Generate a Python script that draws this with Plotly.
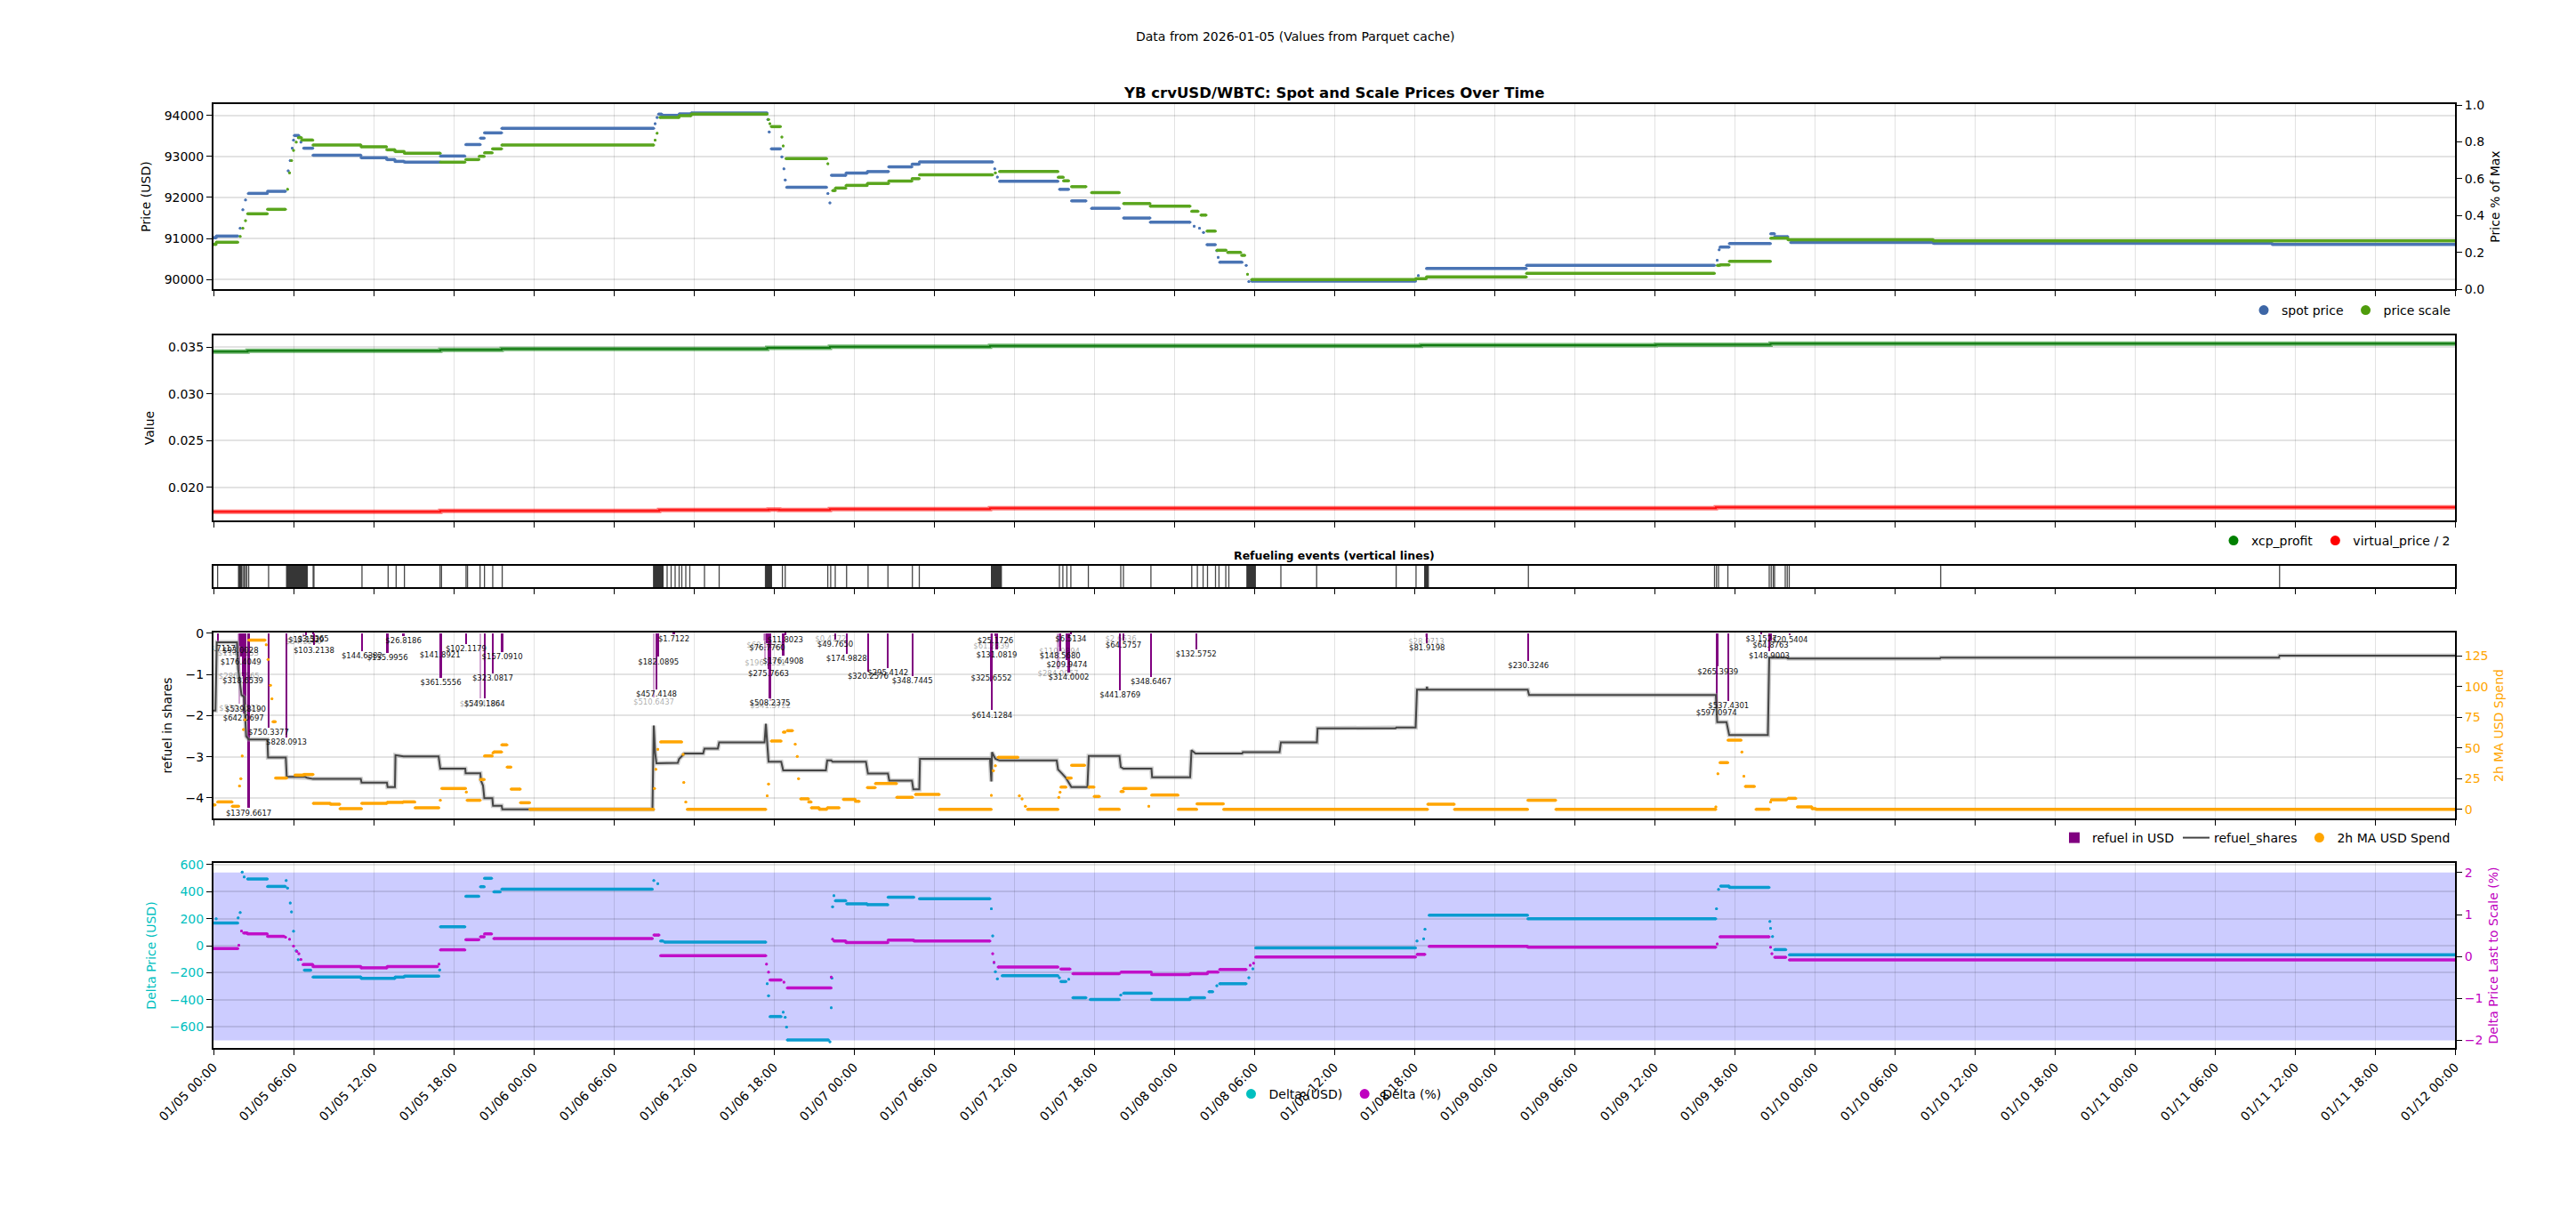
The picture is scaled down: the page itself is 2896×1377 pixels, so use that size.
import pandas as pd
import plotly.graph_objects as go

BASE = pd.Timestamp("2026-01-05 00:00")

# ---------------- data (hours since 2026-01-05 00:00) ----------------
# panel 1: plateaus/points (t_start, t_end, price)
spot_segments = [
    (0.0, 0.2, 91020), (0.2, 1.83, 91060), (2.0, 2.0, 91250), (2.2, 2.2, 91700), (2.4, 2.4, 91940),
    (2.6, 4.04, 92100), (4.04, 5.4, 92150), (5.6, 5.6, 92650), (5.75, 5.75, 92900), (5.9, 5.9, 93200),
    (6.0, 6.0, 93400), (6.05, 6.4, 93510), (6.55, 6.55, 93350), (6.75, 7.45, 93200), (7.45, 11.06, 93030),
    (11.06, 12.98, 92968), (12.98, 13.6, 92924), (13.6, 14.3, 92880), (14.3, 17.0, 92860), (17.0, 18.85, 93010),
    (18.9, 20.0, 93290), (20.0, 20.3, 93444), (20.3, 21.6, 93574), (21.6, 33.0, 93682), (33.1, 33.1, 93800),
    (33.25, 33.25, 93950), (33.35, 33.6, 94030), (33.6, 34.9, 94000), (34.9, 35.8, 94036), (35.8, 41.5, 94058),
    (41.55, 41.55, 93900), (41.65, 41.65, 93600), (41.8, 42.5, 93184), (42.6, 42.6, 92989), (42.75, 42.75, 92700),
    (42.85, 42.85, 92430), (42.95, 45.96, 92250), (46.05, 46.05, 92100), (46.2, 46.2, 91870), (46.3, 47.4, 92540),
    (47.4, 49.0, 92595), (49.0, 50.6, 92631), (50.6, 52.35, 92746), (52.35, 52.9, 92811), (52.9, 58.4, 92868),
    (58.55, 58.55, 92700), (58.75, 58.75, 92500), (58.9, 63.3, 92395), (63.4, 64.1, 92198), (64.3, 65.4, 91917),
    (65.8, 67.9, 91737), (68.2, 70.2, 91499), (70.2, 73.2, 91398), (73.5, 73.5, 91300), (73.9, 73.9, 91250),
    (74.2, 74.2, 91150), (74.45, 75.1, 90850), (75.2, 75.2, 90706), (75.3, 75.3, 90540), (75.4, 77.1, 90425),
    (77.4, 77.4, 90346), (77.6, 77.6, 89950), (77.8, 90.1, 89965), (90.3, 90.3, 90100), (90.9, 98.4, 90274),
    (98.4, 112.5, 90346), (112.7, 112.7, 90470), (112.85, 112.85, 90728), (112.9, 113.6, 90793),
    (113.6, 116.7, 90879), (116.7, 117.0, 91117), (117.0, 118.0, 91045), (118.2, 128.9, 90908),
    (128.9, 154.3, 90886), (154.3, 168.0, 90857),
]
scale_segments = [
    (0.0, 0.2, 90859), (0.2, 1.83, 90910), (2.0, 2.0, 91050), (2.2, 2.2, 91250), (2.4, 2.4, 91437),
    (2.55, 4.04, 91603), (4.04, 5.4, 91711), (5.55, 5.55, 92200), (5.7, 5.7, 92600), (5.85, 5.85, 92900),
    (6.0, 6.0, 93150), (6.2, 6.2, 93350), (6.35, 6.6, 93458), (6.6, 7.45, 93400), (7.45, 11.06, 93278),
    (11.06, 12.98, 93235), (12.98, 13.6, 93162), (13.6, 14.3, 93119), (14.3, 17.0, 93076), (17.0, 18.85, 92860),
    (18.9, 19.9, 92924), (19.9, 20.3, 93004), (20.3, 20.9, 93090), (20.9, 21.6, 93184), (21.6, 33.0, 93278),
    (33.1, 33.1, 93400), (33.25, 33.25, 93567), (33.45, 34.9, 93950), (34.9, 35.8, 93993), (35.8, 41.5, 94029),
    (41.6, 41.6, 93900), (41.7, 41.7, 93800), (41.8, 42.5, 93726), (42.6, 42.6, 93473), (42.7, 42.7, 93256),
    (42.9, 45.96, 92946), (46.05, 46.05, 92823), (46.4, 46.6, 92170), (46.6, 47.4, 92230), (47.4, 49.0, 92295),
    (49.0, 50.6, 92342), (50.6, 52.35, 92400), (52.35, 52.9, 92458), (52.9, 58.4, 92551), (58.6, 58.6, 92600),
    (58.9, 63.3, 92631), (63.3, 63.7, 92494), (63.7, 64.1, 92407), (64.3, 65.4, 92263), (65.8, 67.9, 92119),
    (68.2, 70.2, 91852), (70.2, 73.2, 91787), (73.3, 73.8, 91665), (74.0, 74.4, 91571), (74.45, 75.1, 91182),
    (75.2, 75.9, 90714), (76.0, 77.0, 90663), (77.05, 77.3, 90591), (77.5, 77.5, 90130), (77.8, 90.1, 90000),
    (90.1, 90.9, 90022), (90.9, 98.4, 90065), (98.4, 112.5, 90151), (112.7, 112.9, 90346), (112.9, 113.6, 90360),
    (113.6, 116.7, 90447), (116.7, 118.0, 91009), (118.0, 128.9, 90973), (128.9, 168.0, 90944),
]

# panel 2: step change points
xcp_t = [0, 2.55, 17.0, 21.6, 41.5, 46.2, 58.2, 90.5, 108.1, 116.7, 168]
xcp_v = [0.03452, 0.03462, 0.03471, 0.03481, 0.03493, 0.03506, 0.03515, 0.03522, 0.03528, 0.03538, 0.03538]
vp_t = [0, 17.0, 33.4, 41.6, 42.4, 46.2, 58.2, 112.6, 168]
vp_v = [0.01737, 0.01746, 0.01755, 0.01760, 0.01755, 0.01765, 0.01775, 0.01785, 0.01785]

# panel 3: refuel events
event_times = [0.31, 2.2, 2.3, 2.4, 2.5, 2.64, 4.13, 7.47, 7.53, 11.13, 13.09, 13.69, 14.31, 16.98, 17.09,
               18.93, 19.04, 19.98, 20.31, 20.93, 21.64, 34.0, 34.3, 34.6, 34.9, 35.1, 35.4, 35.7, 36.8,
               37.9, 42.64, 42.85, 46.04, 46.26, 46.6, 47.45, 49.06, 50.55, 52.38, 52.9, 63.4, 63.66, 63.96,
               64.26, 65.57, 68.0, 68.2, 70.26, 73.32, 73.74, 74.17, 74.5, 75.1, 75.36, 75.87, 76.1, 80.0,
               82.68, 88.64, 90.13, 98.55, 112.5, 112.65, 112.8, 113.5, 116.6, 116.75, 116.9, 117.0,
               117.8, 117.95, 118.1, 129.45, 154.85]
event_blocks = [(1.87, 2.1), (5.47, 7.04), (32.98, 33.7), (41.36, 41.83), (58.3, 59.06), (77.45, 78.09),
                (90.77, 91.06)]

# panel 4: refuel events in USD / shares
refuel_t = [0.31, 1.87, 2.02, 2.05, 1.92, 2.2, 1.95, 2.4, 2.25, 2.64, 4.13, 5.47, 6.75, 6.95, 7.47, 7.53,
            11.13, 13.04, 14.24, 16.98, 17.04, 18.93, 19.98, 20.31, 20.93, 21.64, 33.0, 33.2, 33.35, 34.5,
            41.3, 41.35, 41.5, 41.6, 41.7, 41.75, 42.7, 42.85, 46.26, 46.6, 47.45, 49.06, 50.55, 52.38,
            58.3, 58.6, 58.7, 58.3, 58.35, 63.4, 63.45, 63.96, 63.3, 64.1, 64.26, 68.0, 68.2, 67.95,
            70.26, 73.65, 90.9, 90.95, 98.55, 112.75, 113.55, 112.65, 116.0, 116.7, 116.6, 118.15]
refuel_usd = [78.7117, 114.7153, 93.0028, 176.4049, 286.7565, 318.6539, 530.5521, 539.8190, 642.0697,
              1379.6617, 750.3377, 828.0913, 54.1186, 13.1529, 3.3365, 103.2138, 144.6382, 155.9956,
              26.8186, 141.8921, 361.5556, 102.1179, 527.4184, 549.1864, 323.0817, 157.0910, 510.6437,
              457.4148, 182.0895, 1.7122, 60.5213, 196.2331, 76.7760, 275.7663, 508.2375, 541.3722,
              176.4908, 11.8023, 0.4772, 49.7650, 174.9828, 320.2576, 295.4142, 348.7445, 61.2839,
              25.1726, 131.0819, 325.6552, 614.1284, 110.9894, 148.5680, 209.9474, 284.0057, 314.0002,
              6.5134, 2.6636, 64.5757, 441.8769, 348.6467, 132.5752, 28.9713, 81.9198, 230.3246,
              265.3939, 537.4301, 597.0974, 3.1527, 64.8763, 148.9003, 20.5404]
refuel_shares = [0.25, 0.37, 0.30, 0.57, 0.92, 1.03, 1.70, 1.73, 1.95, 4.25, 2.30, 2.53, 0.08, 0.04, 0.01,
                 0.29, 0.43, 0.47, 0.06, 0.40, 1.08, 0.26, 1.59, 1.59, 0.98, 0.45, 1.55, 1.37, 0.57, 0.02,
                 0.18, 0.60, 0.24, 0.86, 1.57, 1.64, 0.55, 0.04, 0.01, 0.15, 0.50, 0.93, 0.85, 1.03, 0.19,
                 0.07, 0.40, 0.98, 1.87, 0.33, 0.44, 0.64, 0.87, 0.95, 0.02, 0.01, 0.18, 1.39, 1.06, 0.38,
                 0.08, 0.24, 0.67, 0.81, 1.64, 1.82, 0.01, 0.18, 0.44, 0.05]
refuel_faded = [0, 1, 0, 0, 1, 0, 1, 0, 0, 0, 0, 0, 1, 0, 0, 0, 0, 0, 0, 0, 0, 0, 1, 0, 0, 0, 1, 0, 0, 0,
                1, 1, 0, 0, 0, 1, 0, 0, 1, 0, 0, 0, 0, 0, 1, 0, 0, 0, 0, 1, 0, 0, 1, 0, 0, 1, 0, 0, 0, 0,
                1, 0, 0, 0, 0, 0, 0, 0, 0, 0]

shares_line = [
    (0, -1.88), (0.15, -1.88), (0.25, -0.22), (1.76, -0.22), (1.85, -0.87), (2.1, -1.5), (2.3, -1.55),
    (2.45, -2.5), (2.64, -2.58), (4.04, -2.58), (4.09, -3.02), (5.42, -3.02), (5.49, -3.49), (6.87, -3.49),
    (7.0, -3.51), (7.47, -3.54), (11.04, -3.54), (11.1, -3.63), (13.0, -3.63), (13.05, -3.74), (13.6, -3.74),
    (13.64, -2.96), (14.24, -2.99), (16.87, -2.99), (17.0, -3.29), (18.87, -3.29), (18.9, -3.40), (20.0, -3.40),
    (20.05, -3.58), (20.2, -3.70), (20.3, -4.01), (20.9, -4.01), (20.95, -4.19), (21.6, -4.19), (21.65, -4.28),
    (32.9, -4.28), (33.0, -2.24), (33.1, -2.9), (33.2, -3.16), (34.8, -3.15), (34.9, -3.05), (35.1, -2.98),
    (35.3, -2.92), (36.7, -2.92), (36.8, -2.80), (37.8, -2.80), (37.9, -2.65), (41.3, -2.65), (41.4, -2.2),
    (41.6, -3.12), (42.55, -3.12), (42.7, -3.33), (45.9, -3.33), (46.0, -3.09), (46.3, -3.09), (46.4, -3.12),
    (48.9, -3.12), (49.05, -3.41), (50.55, -3.41), (50.65, -3.58), (52.35, -3.58), (52.45, -3.79), (52.9, -3.79),
    (52.95, -3.05), (58.2, -3.05), (58.3, -3.6), (58.35, -2.89), (58.6, -3.05), (58.9, -3.09), (63.2, -3.09),
    (63.3, -3.31), (63.6, -3.41), (63.9, -3.52), (64.3, -3.74), (65.5, -3.74), (65.6, -2.98), (67.9, -2.98),
    (68.0, -3.25), (68.2, -3.29), (70.3, -3.29), (70.35, -3.50), (73.2, -3.50), (73.3, -2.84), (73.6, -2.92),
    (77.1, -2.92), (77.15, -2.89), (79.9, -2.89), (80.0, -2.65), (82.7, -2.65), (82.75, -2.31), (88.6, -2.31),
    (88.65, -2.29), (90.1, -2.29), (90.2, -1.37), (90.9, -1.37), (90.95, -1.30), (91.0, -1.37), (98.5, -1.37),
    (98.6, -1.50), (112.6, -1.50), (112.7, -2.16), (113.4, -2.16), (113.6, -2.47), (116.5, -2.47),
    (116.6, -0.59), (117.9, -0.59), (118.0, -0.61), (129.4, -0.61), (129.45, -0.59), (154.8, -0.59),
    (154.85, -0.54), (168.0, -0.54),
]

ma_segments = [
    (0.0, 0.13, 3.6), (0.3, 1.4, 6.0), (1.4, 1.9, 2.4), (1.95, 1.95, 19), (2.05, 2.05, 25), (2.15, 2.15, 43.5),
    (2.25, 2.25, 65), (2.35, 2.35, 73), (2.64, 3.87, 137.8), (3.95, 3.95, 134), (4.09, 4.09, 122),
    (4.27, 4.27, 101), (4.38, 4.38, 90), (4.45, 4.64, 71.3), (4.64, 5.49, 25.4), (6.1, 6.76, 27.8),
    (6.76, 7.47, 28.3), (7.47, 8.76, 4.8), (8.76, 9.47, 4.1), (9.47, 11.1, 0.5), (11.1, 13.0, 4.8),
    (13.0, 14.2, 5.6), (14.2, 15.1, 6.0), (15.1, 16.9, 1.2), (17.0, 17.0, 7.3), (17.1, 18.9, 16.9),
    (18.95, 18.95, 14), (19.0, 20.0, 7.3), (20.0, 20.3, 24.2), (20.3, 20.9, 43.5), (20.95, 20.95, 46),
    (21.0, 21.6, 46.7), (21.6, 22.0, 52.5), (22.0, 22.3, 34.3), (22.3, 23.0, 16.4), (23.0, 23.7, 5.3),
    (23.7, 33.0, 0.0), (33.05, 33.05, 16.9), (33.15, 33.15, 32.6), (33.3, 33.3, 48.8), (33.5, 35.1, 54.9),
    (35.2, 35.2, 44.7), (35.25, 35.25, 21.8), (35.4, 35.4, 6.0), (35.5, 41.4, 0.0), (41.5, 41.5, 10.9),
    (41.6, 41.6, 20.5), (41.8, 42.55, 55.6), (42.7, 42.85, 62.9), (43.0, 43.4, 64.0), (43.6, 43.6, 53),
    (43.75, 43.75, 43), (43.85, 43.85, 25), (44.0, 44.6, 8.5), (44.6, 44.8, 6.0), (44.8, 45.4, 1.2),
    (45.4, 45.96, 0.0), (46.0, 46.9, 1.2), (47.2, 48.1, 8.0), (48.1, 48.4, 6.5), (49.0, 49.6, 17.6),
    (49.6, 51.2, 21.0), (51.2, 52.4, 9.7), (52.6, 54.4, 12.1), (54.4, 58.3, 0.0), (58.3, 58.3, 11.4),
    (58.45, 58.45, 31.4), (58.6, 58.6, 35.5), (58.8, 60.3, 42.3), (60.4, 60.4, 10.9), (60.6, 60.6, 8.5),
    (60.85, 60.85, 2.4), (61.0, 63.3, 0.0), (63.35, 63.35, 9.7), (63.45, 63.45, 13.8), (63.5, 63.9, 18.1),
    (64.0, 64.3, 25.4), (64.3, 65.3, 35.8), (65.6, 66.0, 18.1), (66.0, 66.4, 10.4), (66.4, 67.9, 0.0),
    (68.0, 68.2, 14.5), (68.2, 69.9, 16.9), (70.1, 70.1, 2.4), (70.3, 72.3, 11.6), (72.3, 73.7, 0.0),
    (73.7, 75.7, 4.4), (75.7, 91.0, 0.0), (91.0, 93.0, 4.1), (93.0, 98.5, 0.0), (98.5, 100.6, 7.3),
    (100.6, 112.6, 0.0), (112.6, 112.6, 2.0), (112.75, 112.75, 29), (112.9, 113.5, 38), (113.5, 114.5, 56.3),
    (114.55, 114.55, 46.7), (114.7, 114.7, 27), (114.8, 115.5, 18.6), (115.6, 116.6, 0.0), (116.7, 116.7, 6.0),
    (116.75, 117.9, 7.7), (118.0, 118.6, 8.9), (118.7, 119.8, 1.9), (119.8, 120.1, 0.5), (120.1, 168.0, 0.0),
]

# panel 5
delta_usd_segments = [
    (0.0, 1.83, 168), (0.2, 0.2, 200), (1.85, 1.85, 206), (2.0, 2.0, 245), (2.15, 2.15, 545), (2.3, 2.3, 510),
    (2.55, 4.04, 494), (4.04, 5.4, 439), (5.45, 5.45, 483), (5.55, 5.55, 427), (5.75, 5.75, 316),
    (5.85, 5.85, 250), (6.0, 6.0, 107), (6.2, 6.2, -38), (6.35, 6.35, -104), (6.8, 7.3, -182),
    (7.45, 11.06, -233), (11.06, 13.6, -242), (13.6, 14.3, -233), (14.3, 16.9, -226), (16.95, 16.95, -180),
    (17.0, 18.85, 140), (18.9, 19.9, 366), (20.0, 20.3, 437), (20.3, 20.85, 499), (21.0, 21.5, 399),
    (21.6, 32.9, 419), (33.0, 33.0, 483), (33.3, 33.3, 460), (33.5, 33.7, 35), (33.8, 41.4, 27),
    (41.5, 41.5, -281), (41.6, 41.6, -370), (41.7, 42.55, -525), (42.7, 42.7, -492), (42.85, 42.85, -530),
    (42.95, 42.95, -603), (43.0, 46.1, -698), (46.2, 46.2, -712), (46.3, 46.3, -460), (46.35, 46.35, -240),
    (46.4, 46.4, 288), (46.5, 46.5, 370), (46.6, 47.4, 333), (47.45, 49.0, 310), (49.0, 50.55, 304),
    (50.55, 52.5, 359), (52.9, 58.2, 348), (58.3, 58.3, 273), (58.4, 58.4, 73), (58.5, 58.5, -126),
    (58.6, 58.6, -193), (58.75, 58.75, -246), (59.1, 63.3, -222), (63.4, 63.4, -237), (63.5, 63.9, -266),
    (64.1, 64.1, -249), (64.4, 65.4, -386), (65.7, 67.9, -399), (68.0, 68.0, -366), (68.2, 70.3, -352),
    (70.3, 73.2, -399), (73.2, 74.3, -386), (74.6, 74.9, -341), (75.2, 75.2, -297), (75.4, 77.4, -282),
    (77.6, 77.6, -237), (77.9, 77.9, -171), (78.1, 90.1, -16), (90.2, 90.2, 35), (90.7, 90.7, 51),
    (90.8, 90.8, 122), (91.1, 98.5, 226), (98.5, 112.6, 200), (112.65, 112.65, 273), (112.8, 112.8, 417),
    (112.95, 113.6, 441), (113.6, 116.6, 432), (116.65, 116.65, 180), (116.7, 116.7, 129),
    (116.85, 116.85, 67), (117.0, 117.85, -29), (118.1, 168.0, -67),
]
delta_pct_segments = [
    (0.0, 1.83, 0.19), (1.9, 1.9, 0.27), (2.1, 2.1, 0.61), (2.25, 2.55, 0.56), (2.55, 4.04, 0.54),
    (4.04, 5.3, 0.48), (5.4, 5.4, 0.46), (5.7, 5.7, 0.41), (6.0, 6.0, 0.25), (6.25, 6.25, 0.12),
    (6.4, 6.4, 0.07), (6.55, 6.55, -0.07), (6.7, 7.45, -0.19), (7.45, 11.06, -0.24), (11.06, 13.0, -0.27),
    (13.0, 16.8, -0.24), (16.9, 16.9, -0.18), (17.0, 18.85, 0.16), (18.9, 19.9, 0.40), (20.0, 20.3, 0.47),
    (20.3, 20.85, 0.54), (21.0, 32.9, 0.43), (33.0, 33.4, 0.51), (33.5, 41.4, 0.02), (41.45, 41.45, -0.18),
    (41.6, 41.6, -0.37), (41.7, 42.55, -0.56), (42.75, 42.75, -0.61), (43.0, 46.3, -0.75),
    (46.3, 46.3, -0.49), (46.4, 46.4, 0.41), (46.5, 47.4, 0.37), (47.4, 50.55, 0.33), (50.55, 52.5, 0.39),
    (52.5, 58.2, 0.37), (58.4, 58.4, 0.07), (58.5, 58.5, -0.14), (58.8, 63.3, -0.25), (63.5, 64.2, -0.30),
    (64.4, 67.9, -0.41), (68.0, 70.3, -0.37), (70.3, 73.2, -0.43), (73.2, 74.5, -0.41), (74.5, 75.3, -0.37),
    (75.4, 77.4, -0.31), (77.7, 77.7, -0.21), (77.95, 77.95, -0.16), (78.1, 90.1, -0.01), (90.2, 90.8, 0.05),
    (91.1, 98.5, 0.24), (98.5, 112.6, 0.22), (112.7, 112.7, 0.30), (112.9, 116.6, 0.47),
    (116.7, 116.7, 0.22), (116.8, 116.8, 0.07), (117.0, 117.85, -0.02), (118.1, 168.0, -0.08),
]

X_START, X_END = "2026-01-05 00:00", "2026-01-12 00:00"


# ---------------- helpers ----------------
def T(h):
    return None if h is None else BASE + pd.Timedelta(hours=h)


def seg_xy(segs):
    xs, ys = [], []
    for a, b, v in segs:
        xs += [T(a), T(b), None]
        ys += [v, v, None]
    return xs, ys


W, H = 2896, 1377
XD = [232 / W, 2752 / W]


def ydom(top, bottom):
    return [1 - bottom / H, 1 - top / H]


FONT = "DejaVu Sans"
GRID = "rgba(0,0,0,0.11)"
fig = go.Figure()

# ---- panel 1 ----
for segs, col, name in [(spot_segments, "#4a74b4", "spot price"), (scale_segments, "#5aa51e", "price scale")]:
    xs, ys = seg_xy(segs)
    fig.add_trace(go.Scatter(x=xs, y=ys, mode="lines+markers", line=dict(color=col, width=3.5),
                             marker=dict(color=col, size=3), showlegend=False, xaxis="x", yaxis="y",
                             hoverinfo="skip"))
fig.add_trace(go.Scatter(x=[T(0)], y=[0.5], mode="markers", marker=dict(opacity=0), showlegend=False,
                         xaxis="x", yaxis="y2", hoverinfo="skip"))
fig.add_trace(go.Scatter(x=[None], y=[None], mode="markers", marker=dict(color="#3d66a6", size=11),
                         name="spot price", legend="legend"))
fig.add_trace(go.Scatter(x=[None], y=[None], mode="markers", marker=dict(color="#4f9c0c", size=11),
                         name="price scale", legend="legend"))

# ---- panel 2 ----
for t, v, light, dark, name in [(xcp_t, xcp_v, "rgba(0,128,0,0.55)", "#117a11", "xcp_profit"),
                                (vp_t, vp_v, "rgba(255,0,0,0.55)", "#ff1010", "virtual_price / 2")]:
    xs = [T(h) for h in t]
    fig.add_trace(go.Scatter(x=xs, y=v, mode="lines", line=dict(color=light, width=5, shape="hv"),
                             showlegend=False, xaxis="x2", yaxis="y3", hoverinfo="skip"))
    fig.add_trace(go.Scatter(x=xs, y=v, mode="lines", line=dict(color=dark, width=2, shape="hv"),
                             showlegend=False, xaxis="x2", yaxis="y3", hoverinfo="skip"))
fig.add_trace(go.Scatter(x=[None], y=[None], mode="markers", marker=dict(color="#008000", size=11),
                         name="xcp_profit", legend="legend2"))
fig.add_trace(go.Scatter(x=[None], y=[None], mode="markers", marker=dict(color="#ff0000", size=11),
                         name="virtual_price / 2", legend="legend2"))

# ---- panel 3 ----
ex, ey = [], []
for h in event_times:
    ex += [T(h), T(h), None]
    ey += [0, 1, None]
fig.add_trace(go.Scatter(x=ex, y=ey, mode="lines", line=dict(color="rgba(40,40,40,0.85)", width=1.3),
                         showlegend=False, xaxis="x3", yaxis="y4", hoverinfo="skip"))
bx, by = [], []
for a, b in event_blocks:
    bx += [T(a), T(b), T(b), T(a), T(a), None]
    by += [0, 0, 1, 1, 0, None]
fig.add_trace(go.Scatter(x=bx, y=by, mode="lines", fill="toself", fillcolor="#363636",
                         line=dict(color="#363636", width=1), showlegend=False, xaxis="x3", yaxis="y4",
                         hoverinfo="skip"))

# ---- panel 4 ----
bar_cols = ["rgba(128,0,128,0.35)" if f else "#800080" for f in refuel_faded]
fig.add_trace(go.Bar(x=[T(h) for h in refuel_t], y=[-s for s in refuel_shares], width=0.15 * 3600 * 1000,
                     marker=dict(color=bar_cols, line=dict(width=0)), name="refuel in USD",
                     legend="legend3", xaxis="x4", yaxis="y5", hoverinfo="skip"))
sx = [T(p[0]) for p in shares_line]
sy = [p[1] for p in shares_line]
fig.add_trace(go.Scatter(x=sx, y=sy, mode="lines", line=dict(color="rgba(150,150,150,0.45)", width=5),
                         showlegend=False, xaxis="x4", yaxis="y5", hoverinfo="skip"))
fig.add_trace(go.Scatter(x=sx, y=sy, mode="lines", line=dict(color="#444444", width=2),
                         name="refuel_shares", legend="legend3", xaxis="x4", yaxis="y5", hoverinfo="skip"))
txt_cols = ["rgba(0,0,0,0.35)" if f else "#111111" for f in refuel_faded]
fig.add_trace(go.Scatter(x=[T(h) for h in refuel_t], y=[-s - 0.04 for s in refuel_shares], mode="text",
                         text=[f"${u:.4f}" for u in refuel_usd], textposition="bottom center",
                         textfont=dict(size=8.5, color=txt_cols, family=FONT), showlegend=False,
                         xaxis="x4", yaxis="y5", hoverinfo="skip"))
mx, my = seg_xy(ma_segments)
fig.add_trace(go.Scatter(x=mx, y=my, mode="lines+markers", line=dict(color="#ffa500", width=3.5),
                         marker=dict(color="#ffa500", size=3), showlegend=False, xaxis="x4", yaxis="y6",
                         hoverinfo="skip"))
fig.add_trace(go.Scatter(x=[None], y=[None], mode="markers", marker=dict(color="#ffa500", size=11),
                         name="2h MA USD Spend", legend="legend3"))

# ---- panel 5 ----
dx, dy = seg_xy(delta_usd_segments)
fig.add_trace(go.Scatter(x=dx, y=dy, mode="lines+markers", line=dict(color="#0b9bd0", width=3.5),
                         marker=dict(color="#0b9bd0", size=3), showlegend=False, xaxis="x5", yaxis="y7",
                         hoverinfo="skip"))
px, pyy = seg_xy(delta_pct_segments)
fig.add_trace(go.Scatter(x=px, y=pyy, mode="lines+markers", line=dict(color="#c010c8", width=3.5),
                         marker=dict(color="#c010c8", size=3), showlegend=False, xaxis="x5", yaxis="y8",
                         hoverinfo="skip"))
fig.add_trace(go.Scatter(x=[None], y=[None], mode="markers", marker=dict(color="#00bfbf", size=11),
                         name="Delta (USD)", legend="legend4"))
fig.add_trace(go.Scatter(x=[None], y=[None], mode="markers", marker=dict(color="#bf00bf", size=11),
                         name="Delta (%)", legend="legend4"))

# ---------------- layout ----------------
xbase = dict(type="date", range=[X_START, X_END], tick0=X_START, dtick=6 * 3600 * 1000,
             tickformat="%m/%d %H:%M", showgrid=True, gridcolor=GRID, gridwidth=1, showline=True,
             linecolor="black", linewidth=2, mirror=True, ticks="outside", ticklen=6, tickwidth=1.3,
             tickcolor="black", domain=XD, zeroline=False, showticklabels=False, automargin=False,
             tickfont=dict(size=14, color="black"))
ybase = dict(showline=True, linecolor="black", linewidth=2, mirror=True, ticks="outside", ticklen=6,
             tickwidth=1.3, tickcolor="black", zeroline=False, showgrid=True, gridcolor=GRID, gridwidth=1.5,
             automargin=False, tickfont=dict(size=14, color="black"), title_font=dict(size=14, color="black"))
yright = dict(showline=True, linecolor="black", linewidth=2, ticks="outside", ticklen=6, tickwidth=1.3,
              tickcolor="black", zeroline=False, showgrid=False, side="right", automargin=False,
              tickfont=dict(size=14, color="black"), title_font=dict(size=14, color="black"))

d1, d2, d3, d4, d5 = ydom(109, 317), ydom(369, 577), ydom(628, 652), ydom(703, 912), ydom(962, 1170)

layout = dict(
    width=W, height=H, margin=dict(l=0, r=0, t=0, b=0, autoexpand=False), paper_bgcolor="white",
    plot_bgcolor="white",
    font=dict(family=FONT, size=14, color="black"), bargap=0,
    xaxis=dict(xbase, anchor="y"),
    xaxis2=dict(xbase, anchor="y3"),
    xaxis3=dict(xbase, anchor="y4", showgrid=False),
    xaxis4=dict(xbase, anchor="y5"),
    xaxis5=dict(xbase, anchor="y7", showticklabels=True, tickangle=-45),
    yaxis=dict(ybase, domain=d1, range=[89768, 94275], tickvals=[90000, 91000, 92000, 93000, 94000],
               tickformat="d", title=dict(text="Price (USD)", standoff=12), anchor="x"),
    yaxis2=dict(yright, overlaying="y", anchor="x", range=[0, 1.005], tickvals=[0, 0.2, 0.4, 0.6, 0.8, 1.0],
                tickformat=".1f", title=dict(text="Price % of Max", standoff=8)),
    yaxis3=dict(ybase, domain=d2, range=[0.01644, 0.03627], tickvals=[0.020, 0.025, 0.030, 0.035],
                tickformat=".3f", title=dict(text="Value", standoff=12), anchor="x2"),
    yaxis4=dict(ybase, domain=d3, range=[0, 1], showticklabels=False, ticks="", showgrid=False, anchor="x3"),
    yaxis5=dict(ybase, domain=d4, range=[-4.5, 0.02], tickvals=[-4, -3, -2, -1, 0], tickformat="d",
                title=dict(text="refuel in shares", standoff=12), anchor="x4"),
    yaxis6=dict(yright, overlaying="y5", anchor="x4", range=[-7.5, 144], tickvals=[0, 25, 50, 75, 100, 125],
                tickfont=dict(size=14, color="#ffa500"),
                title=dict(text="2h MA USD Spend", standoff=8, font=dict(size=14, color="#ffa500"))),
    yaxis7=dict(ybase, domain=d5, range=[-758, 613], tickvals=[-600, -400, -200, 0, 200, 400, 600],
                tickformat="d", tickfont=dict(size=14, color="#00bfbf"),
                title=dict(text="Delta Price (USD)", standoff=12, font=dict(size=14, color="#00bfbf")),
                anchor="x5"),
    yaxis8=dict(yright, overlaying="y7", anchor="x5", range=[-2.18, 2.23], tickvals=[-2, -1, 0, 1, 2],
                tickformat="d", tickfont=dict(size=14, color="#bf00bf"),
                title=dict(text="Delta Price Last to Scale (%)", standoff=8,
                           font=dict(size=14, color="#bf00bf"))),
    legend=dict(orientation="h", x=XD[1], xanchor="right", y=1 - 341 / H, yanchor="middle",
                bgcolor="rgba(0,0,0,0)", font=dict(size=14)),
    legend2=dict(orientation="h", x=XD[1], xanchor="right", y=1 - 600 / H, yanchor="middle",
                 bgcolor="rgba(0,0,0,0)", font=dict(size=14)),
    legend3=dict(orientation="h", x=XD[1], xanchor="right", y=1 - 934 / H, yanchor="middle",
                 bgcolor="rgba(0,0,0,0)", font=dict(size=14)),
    legend4=dict(orientation="h", x=1498 / W, xanchor="center", y=1 - 1222 / H, yanchor="middle",
                 bgcolor="rgba(0,0,0,0)", font=dict(size=14)),
    shapes=[dict(type="rect", xref="x5 domain", x0=0, x1=1, yref="y8", y0=-2, y1=2,
                 fillcolor="rgba(0,0,255,0.2)", line=dict(width=0), layer="below")],
    annotations=[
        dict(text="Data from 2026-01-05 (Values from Parquet cache)", x=0.5, y=1 - 33 / H, xref="paper",
             yref="paper", showarrow=False, font=dict(size=14), xanchor="center", yanchor="middle"),
        dict(text="<b>YB crvUSD/WBTC: Spot and Scale Prices Over Time</b>", x=(XD[0] + XD[1]) / 2,
             y=1 - 96 / H, xref="paper", yref="paper", showarrow=False, font=dict(size=16.5),
             xanchor="center", yanchor="middle"),
        dict(text="<b>Refueling events (vertical lines)</b>", x=(XD[0] + XD[1]) / 2, y=1 - 616 / H,
             xref="paper", yref="paper", showarrow=False, font=dict(size=12.5), xanchor="center",
             yanchor="middle"),
    ],
)
fig.update_layout(layout)
fig.write_html("out.html")
